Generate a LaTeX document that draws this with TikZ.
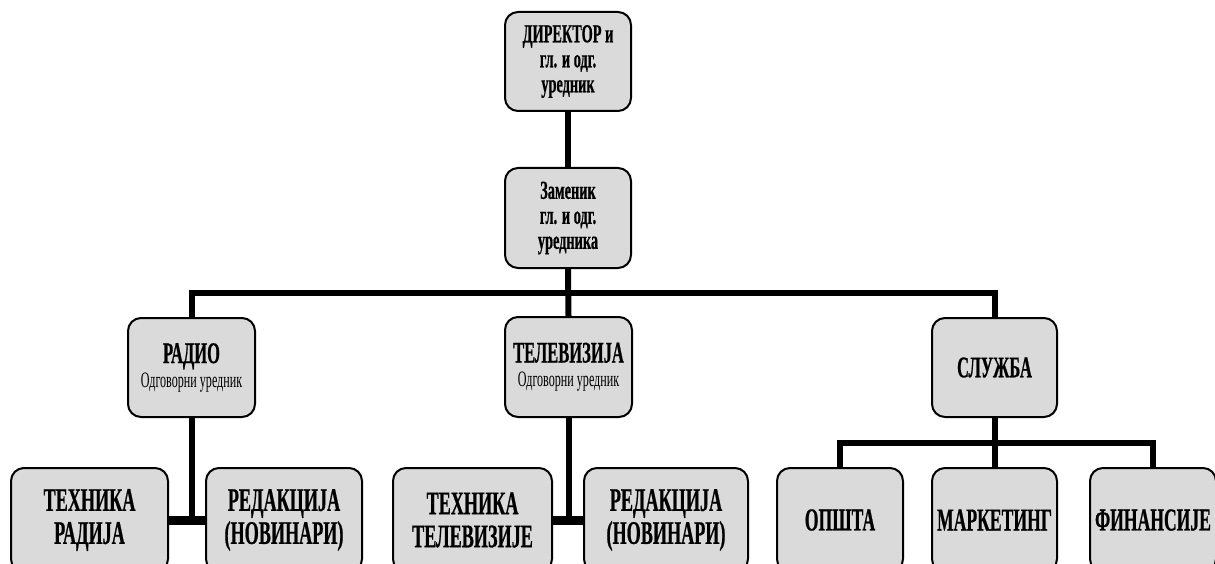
\documentclass[tikz,border=0pt]{standalone}
\usepackage{fontspec}
\setmainfont{Liberation Serif}[FakeStretch=0.55, BoldFeatures={FakeBold=0.6}]
\newcommand\subfontcmd{\mdseries\fontsize{22}{22}\selectfont}
\begin{document}
\begin{tikzpicture}[x=1pt,y=-1pt,
  box/.style={draw=black, line width=2pt, fill=boxgray, rounded corners=13pt,
    align=center, inner sep=0pt, font=\bfseries},
  link/.style={line width=6pt, line join=miter, line cap=butt},
  stub/.style={line width=9pt, line cap=butt},
  topfont/.style={font=\bfseries\fontsize{26}{25}\selectfont},
  midfont/.style={font=\bfseries\fontsize{30}{23}\selectfont},
  lowfont/.style={font=\bfseries\fontsize{33}{33}\selectfont},
  svcfont/.style={font=\bfseries\fontsize{32}{30}\selectfont}]
\definecolor{boxgray}{HTML}{DADADA}
\useasboundingbox (0,0) rectangle (1215,564);
\clip (0,0) rectangle (1215,564);
% top level
\node[box, topfont, minimum width=126pt, minimum height=99pt] (dir) at (568,61.5) {ДИРЕКТОР и\\гл. и одг.\\уредник};
\node[box, topfont, minimum width=126pt, minimum height=100pt] (zam) at (568,218) {Заменик\\гл. и одг.\\уредника};
% second level
\node[box, midfont, minimum width=127pt, minimum height=99pt] (radio) at (191.5,367.5) {РАДИО\\[1pt]{\subfontcmd Одговорни уредник}};
\node[box, midfont, minimum width=127pt, minimum height=100pt] (tv) at (568.5,367) {ТЕЛЕВИЗИЈА\\[1pt]{\subfontcmd Одговорни уредник}};
\node[box, midfont, minimum width=125pt, minimum height=99pt] (sl) at (994.5,367.5) {СЛУЖБА};
% third level
\node[box, lowfont, minimum width=157pt, minimum height=104pt] (tr) at (89.5,520) {ТЕХНИКА\\РАДИЈА};
\node[box, lowfont, minimum width=156pt, minimum height=104pt] (rr) at (284,520) {РЕДАКЦИЈА\\(НОВИНАРИ)};
\node[box, lowfont, minimum width=159pt, minimum height=104pt] (tt) at (472.5,520) {ТЕХНИКА\\ТЕЛЕВИЗИЈЕ};
\node[box, lowfont, minimum width=164pt, minimum height=104pt] (rt) at (666,520) {РЕДАКЦИЈА\\(НОВИНАРИ)};
\node[box, svcfont, minimum width=126pt, minimum height=104pt] (op) at (840,520) {ОПШТА};
\node[box, svcfont, minimum width=125pt, minimum height=104pt] (mk) at (994.5,520) {МАРКЕТИНГ};
\node[box, svcfont, minimum width=126pt, minimum height=104pt] (fi) at (1153,520) {ФИНАНСИЈЕ};
% connectors
\coordinate (bar) at (0,293);
\coordinate (sbar) at (0,443);
\draw[link] (dir.south) -- (zam.north);
\draw[link] (zam.south) -- (tv.north);
\draw[link] (radio.north) -- (radio.north|-bar) -- (sl.north|-bar) -- (sl.north);
\draw[link] (radio.south) -- (radio.south|-tr.east);
\draw[stub] (tr.east) -- (rr.west);
\draw[link] (tv.south) -- (tv.south|-tt.east);
\draw[stub] (tt.east) -- (rt.west);
\draw[link] (sl.south) -- (mk.north);
\draw[link] (op.north) -- (op.north|-sbar) -- (fi.north|-sbar) -- (fi.north);
\end{tikzpicture}
\end{document}
